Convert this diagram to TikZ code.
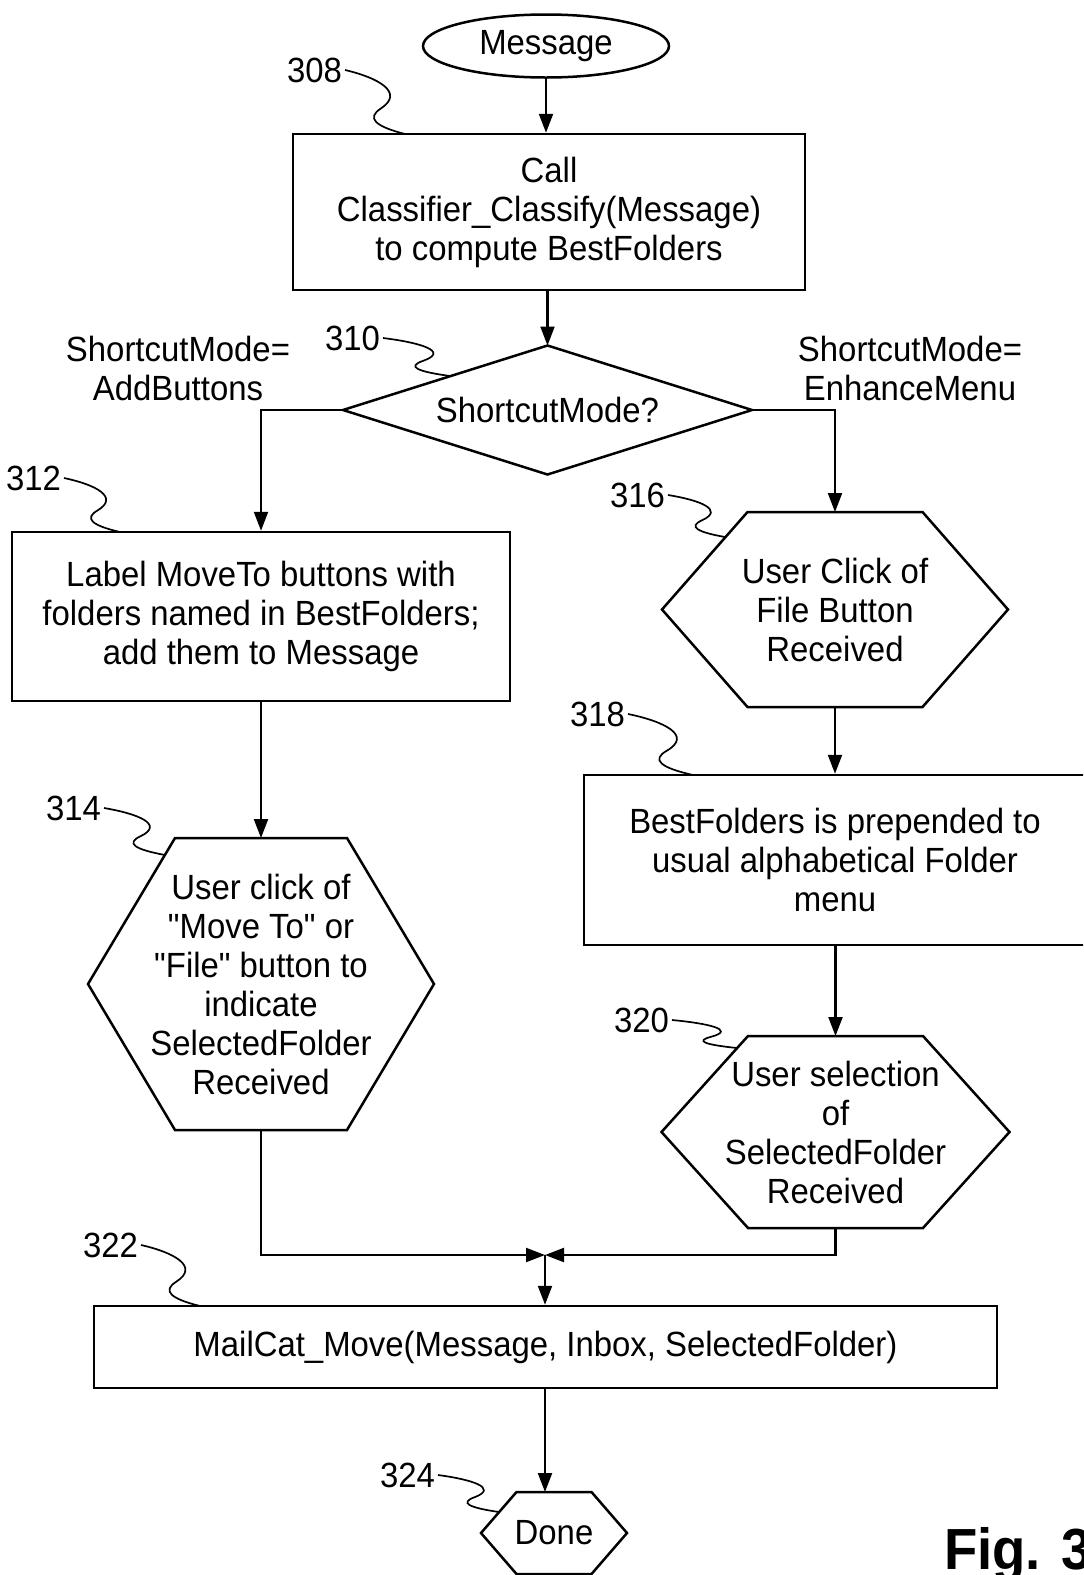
\documentclass[tikz,border=0pt]{standalone}
\usepackage{fontspec}
\setmainfont{Liberation Sans}[Ligatures=TeXOff, FakeStretch=0.94]
\usetikzlibrary{arrows.meta,calc,shapes.geometric}
% hexagon outline round a node: name, half top width, half height, half point width (picture units)
\newcommand\hexdraw[4]{\draw[shapeline] ($(#1.center)+(-#2,-#3)$) -- ($(#1.center)+(#2,-#3)$) -- ($(#1.center)+(#4,0)$) -- ($(#1.center)+(#2,#3)$) -- ($(#1.center)+(-#2,#3)$) -- ($(#1.center)+(-#4,0)$) -- cycle;}
\newcommand\leadline[5]{%
  \coordinate (e#1) at (#4,#5);
  \draw[leader] (l#1.east) .. controls ({#2+0.55*(#4-#2)},{#3+0.12*(#5-#3)}) and ({#2+1.0*(#4-#2)},{#3+0.35*(#5-#3)}) .. ({#2+0.6*(#4-#2)},{#3+0.6*(#5-#3)}) .. controls ({#2+0.35*(#4-#2)},{#3+0.75*(#5-#3)}) and ({#2+0.5*(#4-#2)},{#3+0.88*(#5-#3)}) .. (e#1);}
\begin{document}
\begin{tikzpicture}[x=0.5pt,y=-0.5pt, line width=1.1pt,
  txt/.style={font=\fontsize{17.5}{19.5}\selectfont, align=center, inner sep=0pt},
  box/.style={txt, draw, rectangle, line width=1.25pt},
  shapeline/.style={line width=1.25pt, line join=miter},
  body/.style={txt, rectangle, outer sep=0pt},
  lbl/.style={font=\fontsize{17.5}{19.5}\selectfont, inner sep=1pt, anchor=east},
  flow/.style={-{Triangle[length=9.5pt,width=7pt]}},
  leader/.style={line width=0.85pt}]
\useasboundingbox (0,0) rectangle (1083,1575);
\clip (0,0) rectangle (1083,1575);

% nodes
\node[txt, draw, ellipse, line width=1.25pt, minimum width=123pt, minimum height=31.5pt] (msg) at (546,46) {Message};
\node[box, minimum width=256pt, minimum height=78pt] (b308) at (549,212) {Call\\Classifier\_Classify(Message)\\to compute BestFolders};
\node[body, minimum width=204.5pt, minimum height=64.5pt] (dia) at (547.5,410) {ShortcutMode?};
\draw[shapeline] (dia.north) -- (dia.east) -- (dia.south) -- (dia.west) -- cycle;
\node[box, minimum width=249pt, minimum height=84.5pt] (b312) at (261,616.5) {Label MoveTo buttons with\\folders named in BestFolders;\\add them to Message};
\node[body, minimum height=97.5pt] (h316) at (835,609.5) {User Click of\\File Button\\Received};
\hexdraw{h316}{87.5}{97.5}{173}
\node[box, minimum width=251pt, minimum height=85pt] (b318) at (835,860) {BestFolders is prepended to\\usual alphabetical Folder\\menu};
\node[body, minimum height=96pt] (h320) at (835.5,1132) {User selection\\of\\SelectedFolder\\Received};
\hexdraw{h320}{87.5}{96}{174}
\node[body, minimum height=146pt] (h314) at (261,984) {User click of\\"Move To" or\\"File" button to\\indicate\\SelectedFolder\\Received};
\hexdraw{h314}{86}{146}{173}
\node[box, minimum width=451.5pt, minimum height=41pt] (b322) at (545.5,1347) {MailCat\_Move(Message, Inbox, SelectedFolder)};
\node[body, minimum height=41pt] (done) at (554,1533) {Done};
\hexdraw{done}{37.5}{41}{73}

% branch labels
\node[txt] (tadd) at (178,368) {ShortcutMode=\\AddButtons};
\node[txt] (tenh) at (910,368) {ShortcutMode=\\EnhanceMenu};

% connectors
\coordinate (m) at (545,1255);
\draw[flow] (msg.south) -- (msg.south |- b308.north);
\draw[flow] (dia.north |- b308.south) -- (dia.north);
\draw[flow] (dia.west) -| (b312.north);
\draw[flow] (dia.east) -| (h316.north);
\draw[flow] (b312.south) -- (h314.north);
\draw[flow] (h316.south) -- (h316.south |- b318.north);
\draw[flow] (h320.north |- b318.south) -- (h320.north);
\draw[flow] (h314.south) |- (m);
\draw[flow] (h320.south) |- (m);
\draw[flow] (m) -- (m |- b322.north);
\draw[flow] (b322.south -| m) -- (m |- done.north);

% reference numerals
\node[lbl] (l308) at (345,70) {308};
\node[lbl] (l310) at (383,338) {310};
\node[lbl] (l312) at (64,478) {312};
\node[lbl] (l316) at (668,495) {316};
\node[lbl] (l318) at (628,714) {318};
\node[lbl] (l314) at (104,808) {314};
\node[lbl] (l320) at (672,1020) {320};
\node[lbl] (l322) at (141,1245) {322};
\node[lbl] (l324) at (438,1475) {324};
\leadline{308}{345}{70}{405}{134}
\leadline{310}{383}{338}{450}{376}
\leadline{312}{64}{478}{120}{532}
\leadline{316}{668}{495}{725}{537}
\leadline{318}{628}{714}{693}{775}
\leadline{314}{104}{808}{165}{855}
\leadline{320}{672}{1020}{737}{1048}
\leadline{322}{141}{1245}{200}{1306}
\leadline{324}{438}{1475}{499}{1512}

\node[font=\fontsize{29}{32}\bfseries, inner sep=0pt, anchor=base west] (fig) at (943,1569) {Fig. 3};
\end{tikzpicture}
\end{document}
